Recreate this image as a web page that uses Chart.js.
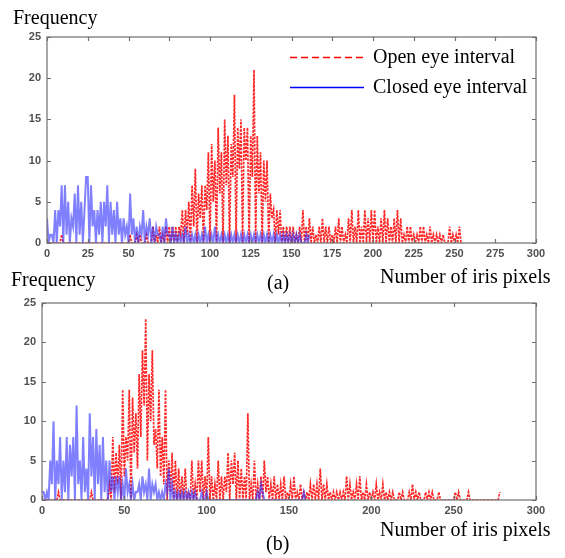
<html>
<head>
<title>Iris pixel histograms</title>
<script src="https://cdn.jsdelivr.net/npm/chart.js@4.4.0/dist/chart.umd.min.js"></script>
<style>
  body { margin: 0; background: #fff; }
  #wrap { position: relative; width: 565px; height: 558px; background: #fff; overflow: hidden; }
  canvas { position: absolute; left: 0; }
  .lbl { position: absolute; font-family: 'Liberation Serif', serif; font-size: 20px; line-height: 24px; color: #000; white-space: nowrap; }
</style>
</head>
<body>
<div id="wrap">
  <canvas id="chartA" width="565" height="262" style="top:0"></canvas>
  <canvas id="chartB" width="565" height="296" style="top:262px"></canvas>
  <div class="lbl" style="left:13px;top:5px">Frequency</div>
  <div class="lbl" style="left:267px;top:270px">(a)</div>
  <div class="lbl" style="left:380px;top:264px">Number of iris pixels</div>
  <div class="lbl" style="left:11px;top:267px">Frequency</div>
  <div class="lbl" style="left:380px;top:517px">Number of iris pixels</div>
  <div class="lbl" style="left:266px;top:531px">(b)</div>
</div>

<script>
// frequency per number of iris pixels, index = pixel count (starting at 0)
var openA = [
  0,0,0,0,0,0,0,0,0,1, 0,0,0,0,0,0,0,0,0,0,
  0,0,0,0,0,0,0,0,0,0, 0,0,0,0,0,0,0,0,0,0,
  0,0,0,0,0,0,0,0,0,0, 0,1,0,0,0,1,0,1,0,0,
  0,1,0,0,0,2,0,1,0,2, 0,1,0,2,0,2,0,2,0,2,
  0,2,1,4,0,4,1,5,0,7, 2,9,0,6,3,7,0,7,4,11,
  0,12,5,10,0,14,6,11,0,15, 7,13,0,12,8,18,0,14,9,15,
  0,14,10,14,0,13,8,21,0,13, 6,11,0,10,5,10,0,6,3,4,
  0,4,1,4,0,2,0,2,0,2, 0,2,0,1,0,2,0,4,0,2,
  0,3,0,2,0,1,0,2,0,3, 0,2,0,2,0,1,0,2,0,3,
  0,2,0,1,0,3,0,4,0,2, 0,4,0,2,0,4,0,3,0,4,
  0,4,0,2,0,3,0,4,0,3, 0,2,0,3,0,4,0,3,0,1,
  0,2,0,2,0,1,0,1,0,2, 0,2,0,1,0,2,0,1,0,1,
  0,1,0,1,0,0,0,2,0,1, 0,1,0,2,0,0
];
var closedA = [
  3,0,1,1,0,4,0,4,2,7, 0,7,1,5,0,3,2,6,0,7,
  1,5,0,4,8,8,0,7,2,4, 0,4,1,5,0,5,2,7,0,5,
  1,4,0,5,1,3,0,3,1,2, 0,6,1,3,0,2,0,2,1,4,
  0,2,1,3,0,2,0,2,1,1, 0,2,0,3,1,1,0,2,0,1,
  0,1,0,1,0,2,0,1,0,1, 0,1,0,1,0,1,0,2,0,1,
  0,1,0,2,0,1,0,1,0,1, 0,1,0,1,0,1,0,1,0,1,
  0,1,0,1,0,1,0,1,0,1, 0,1,0,1,0,1,0,1,0,1,
  0,1,0,1,0,1,0,1,0,1, 0,1,0,1,0,1,0,0,0,1,
  0,1
];
var openB = [
  0,0,0,0,0,0,0,0,0,0, 1,0,0,0,0,0,0,0,0,0,
  0,0,0,0,0,0,0,0,0,0, 1,0,0,0,0,0,0,0,0,0,
  0,2,0,8,1,6,2,7,0,14, 3,8,5,14,0,13,6,11,4,16,
  8,19,12,23,5,16,10,19,7,9, 4,14,3,8,2,14,0,5,1,6,
  0,5,0,4,0,3,0,4,0,1, 0,5,0,2,0,5,1,5,0,3,
  0,8,0,3,0,2,0,5,0,3, 0,3,1,6,0,5,2,6,0,5,
  0,4,0,3,0,11,0,2,0,5, 0,2,0,3,0,5,1,3,0,2,
  0,3,0,2,0,2,0,3,0,1, 0,2,0,3,0,1,0,2,0,1,
  0,1,0,2,0,2,0,2,0,4, 0,2,0,2,0,1,0,1,0,1,
  0,1,0,1,0,3,0,2,0,1, 0,2,0,3,0,1,0,2,0,1,
  0,1,0,2,0,1,0,2,0,1, 0,1,0,1,0,0,0,1,0,1,
  0,0,0,1,0,2,0,1,0,1, 0,0,0,1,0,1,0,1,0,0,
  0,1,0,0,0,0,0,0,0,0, 0,1,0,1,0,0,0,0,0,1,
  0,0,0,0,0,0,0,0,0,0, 0,0,0,0,0,0,0,0,1
];
var closedB = [
  1,1,0,1,0,5,2,10,0,5, 2,8,0,5,1,8,0,7,3,8,
  0,12,2,5,0,8,1,4,0,11, 3,8,0,9,2,7,0,8,1,5,
  0,5,1,3,0,3,1,3,0,2, 0,4,1,2,0,2,0,1,1,2,
  0,3,1,2,0,4,0,2,1,2, 0,1,0,1,0,2,1,4,0,2,
  0,1,0,1,0,1,0,1,0,1, 0,1,0,1,0,0,0,1,0,0,
  1,0,0,0,0,0,0,0,0,0, 0,0,0,0,0,0,0,0,0,0,
  0,0,0,0,0,0,0,0,0,0, 0,1,0,2,1,0,0,0,0,0,
  0,0,0,0,0,0,0,0,0,0, 0,0,0,0,0,0,0,0,0,1,
  0
];
var seriesNames = ['Open eye interval', 'Closed eye interval'];
var xTicksA = [0, 25, 50, 75, 100, 125, 150, 175, 200, 225, 250, 275, 300];
var xTicksB = [0, 50, 100, 150, 200, 250, 300];
var yTicks = [0, 5, 10, 15, 20, 25];

function pts(arr) {
  return arr.map(function (v, i) { return { x: i, y: v }; });
}

// box around plot area with inward ticks on all four sides (matlab style)
var framePlugin = {
  id: 'frame',
  afterDatasetsDraw: function (chart) {
    var a = chart.chartArea, c = chart.ctx;
    var xs = chart.scales.x, ys = chart.scales.y;
    c.save();
    c.strokeStyle = '#6e6e6e';
    c.lineWidth = 1.2;
    c.setLineDash([]);
    c.strokeRect(a.left, a.top, a.right - a.left, a.bottom - a.top);
    c.beginPath();
    xs.ticks.forEach(function (t) {
      var px = Math.round(xs.getPixelForValue(t.value)) + 0.5;
      c.moveTo(px, a.bottom); c.lineTo(px, a.bottom - 4);
      c.moveTo(px, a.top); c.lineTo(px, a.top + 4);
    });
    ys.ticks.forEach(function (t) {
      var py = Math.round(ys.getPixelForValue(t.value)) + 0.5;
      c.moveTo(a.left, py); c.lineTo(a.left + 4, py);
      c.moveTo(a.right, py); c.lineTo(a.right - 4, py);
    });
    c.stroke();
    c.restore();
  }
};

var legendPlugin = {
  id: 'boxLegend',
  afterDraw: function (chart) {
    var c = chart.ctx;
    var rows = [57, 87];
    c.save();
    chart.data.datasets.forEach(function (ds, i) {
      c.beginPath();
      c.strokeStyle = ds.legendColor;
      c.lineWidth = 1.5;
      c.setLineDash(ds.legendDash);
      c.moveTo(290, rows[i] + 0.5);
      c.lineTo(364, rows[i] + 0.5);
      c.stroke();
      c.setLineDash([]);
      c.fillStyle = '#000';
      c.font = '20px "Liberation Serif"';
      c.textBaseline = 'middle';
      c.fillText(ds.label, 373, rows[i] + 1);
    });
    c.restore();
  }
};

function makeChart(id, openData, closedData, xTicks, top, left, xh, withLegend) {
  var tickFont = { family: 'Liberation Sans', size: 11, weight: 'bold' };
  return new Chart(document.getElementById(id), {
    type: 'line',
    data: {
      datasets: [{
        label: seriesNames[0],
        data: pts(openData),
        borderColor: 'rgba(255,0,0,0.85)',
        borderWidth: 1.7,
        borderDash: [2.5, 1.2],
        legendDash: [7, 4],
        legendColor: '#ff0000',
        pointRadius: 0,
        tension: 0,
        order: 1
      }, {
        label: seriesNames[1],
        data: pts(closedData),
        borderColor: 'rgba(50,50,255,0.62)',
        borderWidth: 2,
        legendDash: [],
        legendColor: '#0000ff',
        pointRadius: 0,
        tension: 0,
        order: 0
      }]
    },
    options: {
      responsive: false,
      animation: false,
      devicePixelRatio: 1,
      layout: { padding: { top: top, right: 29, left: 0, bottom: 0 } },
      plugins: { legend: { display: false }, tooltip: { enabled: false } },
      scales: {
        x: {
          type: 'linear', min: 0, max: 300,
          afterBuildTicks: function (s) { s.ticks = xTicks.map(function (v) { return { value: v }; }); },
          ticks: { font: tickFont, color: '#505050', padding: 4, maxRotation: 0, autoSkip: false },
          grid: { display: false, drawTicks: false },
          border: { display: false },
          afterFit: function (s) { s.height = xh; }
        },
        y: {
          min: 0, max: 25,
          afterBuildTicks: function (s) { s.ticks = yTicks.map(function (v) { return { value: v }; }); },
          ticks: { font: tickFont, color: '#505050', padding: 6 },
          grid: { display: false, drawTicks: false },
          border: { display: false },
          afterFit: function (s) { s.width = left; }
        }
      }
    },
    plugins: withLegend ? [framePlugin, legendPlugin] : [framePlugin]
  });
}

makeChart('chartA', openA, closedA, xTicksA, 37, 47, 19, true);
makeChart('chartB', openB, closedB, xTicksB, 41, 42, 58, false);
</script>
</body>
</html>
